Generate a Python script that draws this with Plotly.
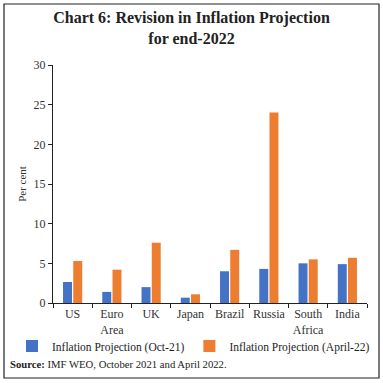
import plotly.graph_objects as go

categories = ["US", "Euro<br>Area", "UK", "Japan", "Brazil", "Russia", "South<br>Africa", "India"]
oct21 = [2.65, 1.4, 2.0, 0.67, 4.0, 4.3, 5.0, 4.9]
apr22 = [5.3, 4.2, 7.6, 1.1, 6.7, 24.0, 5.5, 5.7]
y_ticks = [0, 5, 10, 15, 20, 25, 30]

W, H = 383, 383
L, R, T, B = 53, 16, 65, 80
pw, ph = W - L - R, H - T - B

def px(x):
    return (x - L) / pw

def py(y):
    return (H - B - y) / ph

serif = "Liberation Serif"
fig = go.Figure()
fig.add_trace(go.Bar(x=categories, y=oct21, name="Inflation Projection (Oct-21)",
                     marker=dict(color="#4472C4", line=dict(width=0))))
fig.add_trace(go.Bar(x=categories, y=apr22, name="Inflation Projection (April-22)",
                     marker=dict(color="#ED7D31", line=dict(width=0))))

fig.update_layout(
    width=W, height=H,
    margin=dict(l=L, r=R, t=T, b=B, autoexpand=False),
    paper_bgcolor="white", plot_bgcolor="white",
    barmode="group", bargap=0.48, bargroupgap=0.12,
    font=dict(family=serif, size=12, color="#333333"),
    title=dict(text="<b>Chart 6: Revision in Inflation Projection<br>for end-2022</b>",
               x=0.5, xanchor="center", y=1 - 23 / H, yanchor="top",
               font=dict(family=serif, size=16, color="#222222")),
    showlegend=True,
    legend=dict(orientation="h", xref="paper", yref="paper",
                x=px(12), xanchor="left", y=py(346), yanchor="middle",
                font=dict(family=serif, size=11.5, color="#222222"),
                itemwidth=30, tracegroupgap=0, bgcolor="rgba(0,0,0,0)"),
    xaxis=dict(showline=True, linecolor="#222222", linewidth=1, tickangle=0,
               ticks="outside", tickson="boundaries", ticklen=4, tickcolor="#222222",
               tickfont=dict(family=serif, size=12, color="#333333"),
               showgrid=False, fixedrange=True),
    yaxis=dict(range=[0, 30], tickvals=y_ticks, showline=True, linecolor="#222222", linewidth=1,
               ticks="outside", ticklen=4, tickcolor="#222222", showgrid=False, zeroline=False,
               tickfont=dict(family=serif, size=12, color="#333333"),
               title=dict(text="Per cent", font=dict(family=serif, size=11, color="#333333"), standoff=4)),
    annotations=[dict(text="<b>Source:</b> IMF WEO, October 2021 and April 2022.",
                      xref="paper", yref="paper", x=px(8), y=py(364),
                      xanchor="left", yanchor="middle", showarrow=False,
                      font=dict(family=serif, size=10.7, color="#222222"))],
)
fig.add_shape(type="rect", xref="paper", yref="paper",
              x0=px(4), x1=px(379), y0=py(378), y1=py(4),
              line=dict(color="#222222", width=1.2), layer="above")

fig.write_html("out.html", config={"displayModeBar": False},
               post_script="document.body.style.margin='0';")
